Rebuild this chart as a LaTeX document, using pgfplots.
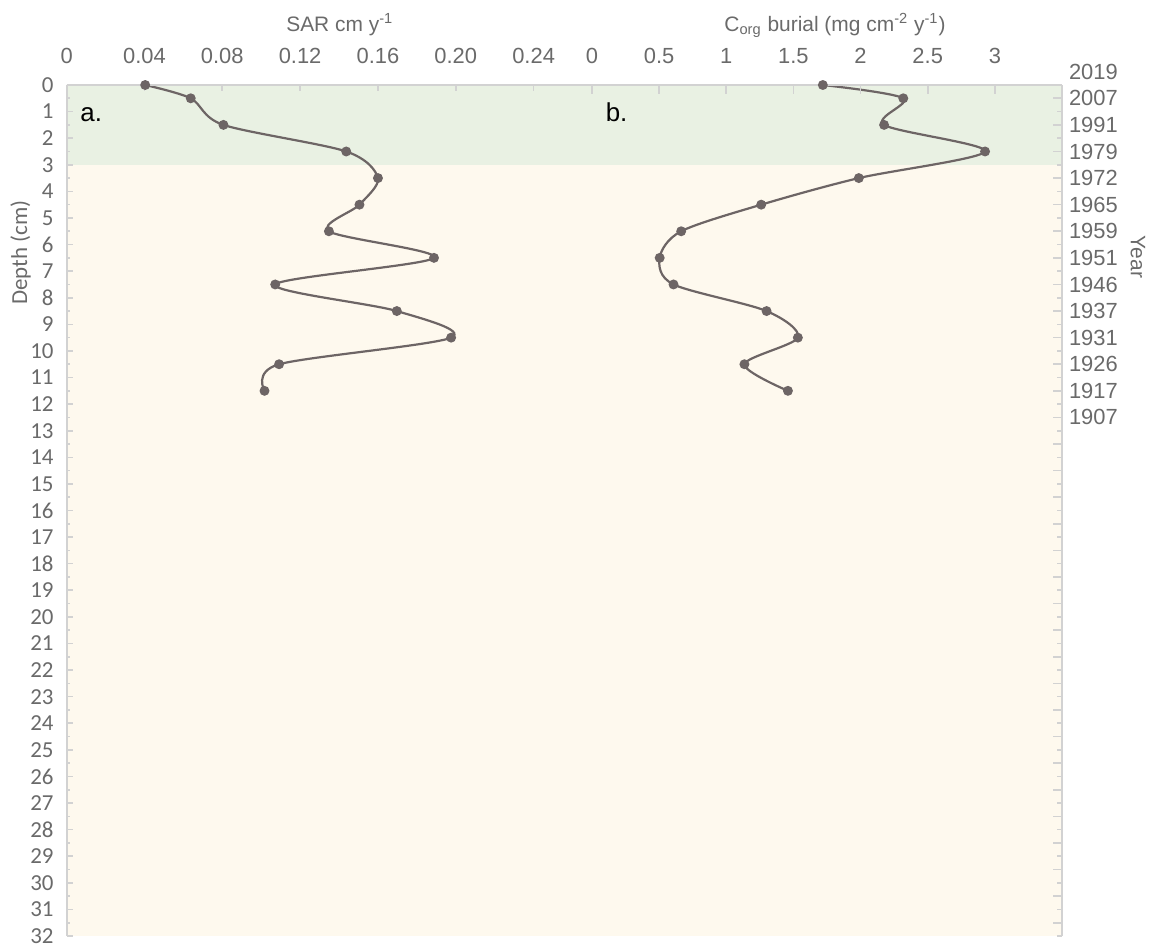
\documentclass[border=0pt]{standalone}
\usepackage{fontspec}
\setmainfont{Liberation Sans}
\newfontfamily\calibri{Carlito}
\usepackage{pgfplots}
\pgfplotsset{compat=1.18}

\definecolor{bandgreen}{HTML}{E9F1E3}
\definecolor{cream}{HTML}{FEF9EE}
\definecolor{axgray}{HTML}{D2D2D2}
\definecolor{txtgray}{HTML}{6A6A6A}
\definecolor{linegray}{HTML}{6D6565}

\pgfplotsset{
  common/.style={
    scale only axis, height=425.5bp,
    ymin=0, ymax=32, y dir=reverse,
    axis line style={axgray, line width=1bp},
    tick style={axgray, line width=0.8bp},
    tick align=inside,
    axis on top,
    clip=false,
    axis background/.style={fill=cream},
    /pgf/number format/assume math mode=true,
    ticklabel style={font=\fontsize{11}{13}\selectfont, text=txtgray},
    xticklabel style={anchor=base, yshift=11bp},
    axis x line*=top,
  },
  dataline/.style={linegray, line width=1.1bp, smooth, mark=*, mark size=1.9bp,
    mark options={fill=linegray, draw=linegray}},
}

\begin{document}
\begin{tikzpicture}
\path[use as bounding box] (0,0) rectangle (579bp,473bp);

% ---------- panel a: SAR ----------
\begin{axis}[common,
  at={(33.3bp,5bp)}, anchor=south west, width=262.7bp,
  xmin=0, xmax=0.27,
  axis y line*=left,
  major tick length=3bp, minor tick length=1.6bp,
  xtick={0,0.04,0.08,0.12,0.16,0.20,0.24},
  xticklabels={0,0.04,0.08,0.12,0.16,0.20,0.24},
  ytick={0,1,...,32},
  minor ytick={0.5,1.5,...,31.5},
  yticklabel style={font=\calibri\fontsize{11.5}{13}\selectfont, text=txtgray, xshift=-3bp},
]
\addplot[draw=none, fill=bandgreen, forget plot] coordinates {(0,0) (0.27,0) (0.27,3) (0,3)} -- cycle;
\addplot[dataline] coordinates {
 (0.0404,0) (0.0638,0.5) (0.0806,1.5) (0.1437,2.5) (0.1600,3.5) (0.1505,4.5)
 (0.1348,5.5) (0.1888,6.5) (0.1072,7.5) (0.1697,8.5) (0.1976,9.5) (0.1092,10.5) (0.1017,11.5)
};
\node[anchor=base west, inner sep=0pt, font=\fontsize{13}{15}\selectfont, text=black]
  at (axis description cs:0,0.9566) [xshift=6.7bp] {a.};
\node[anchor=base, font=\fontsize{10.5}{12}\selectfont, text=txtgray]
  at (axis description cs:0.52,1) [yshift=27bp] {SAR cm y\textsuperscript{-1}};
\path (axis description cs:0,0.803) ++(-23bp,0)
  node[rotate=90, font=\calibri\fontsize{11.5}{13}\selectfont, text=txtgray] {Depth (cm)};
\end{axis}

% ---------- panel b: Corg burial ----------
\begin{axis}[common,
  at={(296bp,5bp)}, anchor=south west, width=235bp,
  xmin=0, xmax=3.5,
  axis y line*=right,
  major tick length=4.5bp, minor tick length=2.5bp,
  xtick={0,0.5,1,1.5,2,2.5,3},
  xticklabels={0,0.5,1,1.5,2,2.5,3},
  ytick={0.5,1.5,...,31.5},
  yticklabels={2007,1991,1979,1972,1965,1959,1951,1946,1937,1931,1926,1917,1907,
    {},{},{},{},{},{},{},{},{},{},{},{},{},{},{},{},{},{},{}},
  minor ytick={1,2,...,32},
  yticklabel style={anchor=west},
]
\addplot[draw=none, fill=bandgreen, forget plot] coordinates {(0,0) (3.5,0) (3.5,3) (0,3)} -- cycle;
\addplot[dataline] coordinates {
 (1.719,0) (2.318,0.5) (2.175,1.5) (2.927,2.5) (1.987,3.5) (1.260,4.5)
 (0.664,5.5) (0.504,6.5) (0.607,7.5) (1.300,8.5) (1.533,9.5) (1.135,10.5) (1.459,11.5)
};
\node[anchor=base west, inner sep=0pt, font=\fontsize{13}{15}\selectfont, text=black]
  at (axis description cs:0,0.9566) [xshift=6.7bp] {b.};
\node[anchor=west, font=\fontsize{11}{13}\selectfont, text=txtgray]
  at (axis cs:3.5,-0.5) {2019};
\node[anchor=base, font=\fontsize{10.5}{12}\selectfont, text=txtgray]
  at (axis description cs:0.517,1) [yshift=27bp] {C\textsubscript{org} burial (mg cm\textsuperscript{-2} y\textsuperscript{-1})};
\path (axis description cs:1,0.798) ++(38bp,0)
  node[rotate=-90, font=\fontsize{10.5}{12}\selectfont, text=txtgray] {Year};
\end{axis}
\end{tikzpicture}
\end{document}
